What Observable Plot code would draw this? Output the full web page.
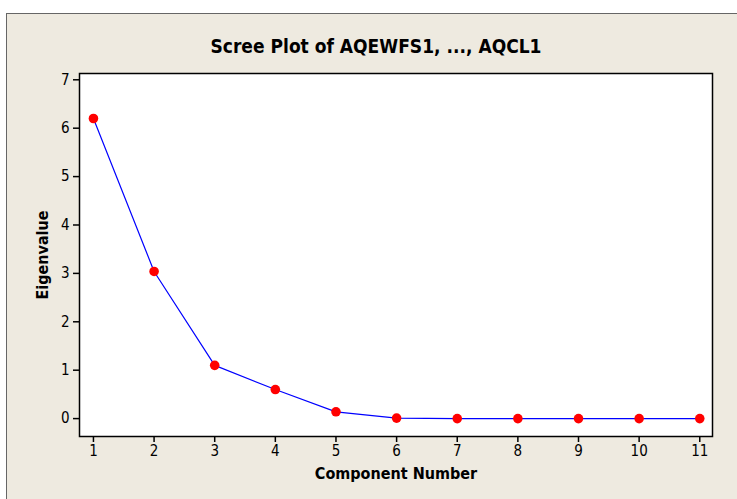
<!DOCTYPE html>
<html>
<head>
<meta charset="utf-8">
<script src="https://cdn.jsdelivr.net/npm/d3@7"></script>
<script src="https://cdn.jsdelivr.net/npm/@observablehq/plot@0.6"></script>
<style>
  html, body { margin: 0; padding: 0; background: #ffffff; width: 737px; height: 499px; overflow: hidden; }
  #frame { position: absolute; left: 6px; top: 13px; width: 760px; height: 520px; background: #EEEAE0; border: 1px solid #666; box-sizing: border-box; }
  #title { position: absolute; left: 0; top: 35px; width: 752px; text-align: center; font-family: "DejaVu Sans Condensed", "DejaVu Sans", sans-serif; font-weight: bold; font-size: 19px; line-height: 22px; color: #000; }
  #chart { position: absolute; left: 0; top: 0; }
  #chart svg { background: transparent !important; }
  #chart [aria-label="x-axis label"] text, #chart [aria-label="y-axis label"] text { font-weight: bold; font-family: "DejaVu Sans Condensed", "DejaVu Sans", sans-serif; font-size: 16px; }
</style>
</head>
<body>
<div id="frame"></div>
<div id="title">Scree Plot of AQEWFS1, ..., AQCL1</div>
<div id="chart"></div>
<script>
const components = [1, 2, 3, 4, 5, 6, 7, 8, 9, 10, 11];
const eigenvalues = [6.2, 3.04, 1.1, 0.6, 0.14, 0.01, 0.0, 0.0, 0.0, 0.0, 0.0];
const xTicks = [1, 2, 3, 4, 5, 6, 7, 8, 9, 10, 11];
const yTicks = [0, 1, 2, 3, 4, 5, 6, 7];

const data = components.map((c, i) => ({component: c, eigenvalue: eigenvalues[i]}));

const chart = Plot.plot({
  width: 737,
  height: 499,
  marginLeft: 79,
  marginRight: 25,
  marginTop: 73,
  marginBottom: 63,
  style: {fontFamily: "'DejaVu Sans Condensed', 'DejaVu Sans', sans-serif", fontSize: "15px", color: "#000", background: "transparent"},
  x: {domain: [0.77, 11.21], ticks: xTicks, tickFormat: d3.format("d"), label: "Component Number", labelAnchor: "center", labelArrow: "none"},
  y: {domain: [-0.37, 7.13], ticks: yTicks, tickFormat: d3.format("d"), label: "Eigenvalue", labelAnchor: "center", labelArrow: "none"},
  marks: [
    Plot.frame({fill: "white", stroke: "black", strokeWidth: 1.5}),
    Plot.axisX({ticks: xTicks, tickFormat: d3.format("d"), tickSize: 6, tickPadding: 3, label: "Component Number", labelAnchor: "center", labelArrow: "none", labelOffset: 42, stroke: "black", strokeWidth: 1.5}),
    Plot.axisY({ticks: yTicks, tickFormat: d3.format("d"), tickSize: 6, tickPadding: 4, label: "Eigenvalue", labelAnchor: "center", labelArrow: "none", labelOffset: 43, stroke: "black", strokeWidth: 1.5}),
    Plot.line(data, {x: "component", y: "eigenvalue", stroke: "#0000ff", strokeWidth: 1.2}),
    Plot.dot(data, {x: "component", y: "eigenvalue", r: 4.8, fill: "#ff0000", stroke: "none"})
  ]
});
document.getElementById("chart").appendChild(chart);
</script>
</body>
</html>
